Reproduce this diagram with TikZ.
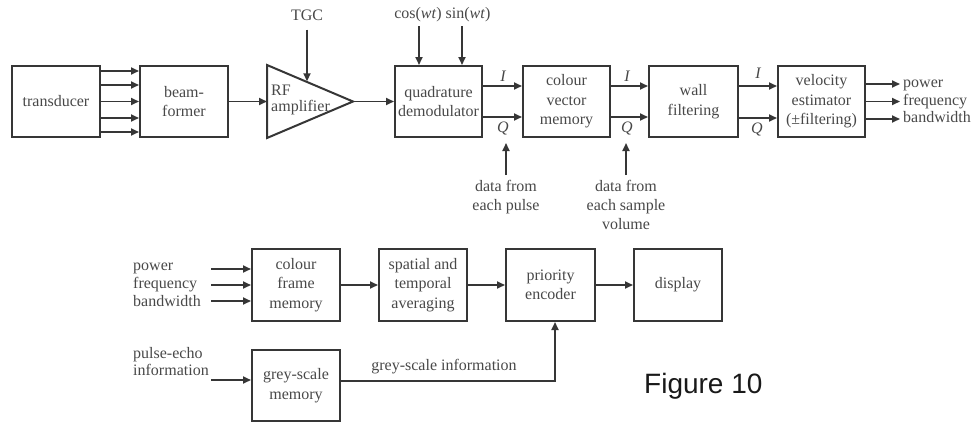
\documentclass[tikz,border=0pt]{standalone}
\usepackage{fontspec}
\setmainfont{Liberation Serif}
\newfontfamily\figfont{Liberation Sans}
\usetikzlibrary{arrows.meta}
\definecolor{linec}{HTML}{363636}
\definecolor{textc}{HTML}{484848}
\begin{document}
\begin{tikzpicture}[x=1pt,y=-1pt,
  box/.style={draw=linec, line width=2pt, minimum width=88pt, minimum height=71pt, inner sep=0pt, align=center, text=textc, font=\fontsize{16}{19.5}\selectfont},
  arr/.style={draw=linec, line width=1.8pt, -{Triangle[length=8pt,width=7pt]}},
  ln/.style={draw=linec, line width=1.8pt},
  lbl/.style={text=textc, inner sep=0pt, align=center, font=\fontsize{16}{19}\selectfont},
  iq/.style={text=textc, inner sep=0pt, font=\fontsize{16}{19}\selectfont\itshape}]
\useasboundingbox (0,0) rectangle (979,423);
% ---------- top row ----------
\node[box] (trans) at (56,101.5) {transducer};
\node[box] (beam) at (184,101.5) {beam-\\former};
\coordinate (ampA) at (267,65);
\coordinate (ampB) at (267,138);
\coordinate (ampC) at (353,101.5);
\draw[ln, line width=2pt, line join=miter] (ampA) -- (ampC) -- (ampB) -- cycle;
\node[lbl, align=left, anchor=west, font=\fontsize{16}{15.5}\selectfont] (amptext) at (271,100) {RF\\amplifier};
\node[box, minimum width=87pt] (quad) at (438.5,101.5) {quadrature\\demodulator};
\node[box, minimum width=87pt] (cvm) at (566.5,101.5) {colour\\vector\\memory};
\node[box, minimum width=89pt] (wall) at (693.5,101.5) {wall\\filtering};
\node[box, minimum width=87pt] (vel) at (821.5,101.5) {velocity\\estimator\\(±filtering)};

\foreach \d in {30.5,16.5,0,-16.5,-30.5}
  \draw[arr] ([yshift=\d pt]trans.east) -- ([yshift=\d pt]beam.west);
\draw[arr] (beam.east) -- (ampA |- beam.east);
\draw[arr] (ampC) -- (quad.west);

\node[lbl] (tgc) at (307,15) {TGC};
\coordinate (tgcend) at (307,81.3);
\draw[arr, shorten <=9pt] (tgc.south) -- (tgcend);

\node[lbl] (cos) at (418,15) {cos(\textit{wt})};
\node[lbl] (sin) at (468,15) {sin(\textit{wt})};
\draw[arr, shorten <=4pt] ([xshift=1pt]cos.south) -- ([xshift=1pt]cos.south |- quad.north);
\draw[arr, shorten <=4pt] ([xshift=-6pt]sin.south) -- ([xshift=-6pt]sin.south |- quad.north);

\draw[arr] ([yshift=15.5pt]quad.east) -- ([yshift=15.5pt]cvm.west);
\draw[arr] ([yshift=-15.5pt]quad.east) -- ([yshift=-15.5pt]cvm.west);
\draw[arr] ([yshift=15.5pt]cvm.east) -- ([yshift=15.5pt]wall.west);
\draw[arr] ([yshift=-15.5pt]cvm.east) -- ([yshift=-15.5pt]wall.west);
\draw[arr] ([yshift=15.5pt]wall.east) -- ([yshift=15.5pt]vel.west);
\draw[arr] ([yshift=-16.5pt]wall.east) -- ([yshift=-16.5pt]vel.west);

\node[iq] (i1) at (503,76) {I};
\node[iq] (q1) at (503,128) {Q};
\node[iq] (i2) at (627,76) {I};
\node[iq] (q2) at (627,128) {Q};
\node[iq] (i3) at (758,73) {I};
\node[iq] (q3) at (757,129) {Q};

\node[lbl, anchor=north] (dp) at (506,180) {data from\\each pulse};
\coordinate (dpend) at (506,143);
\draw[arr, shorten <=5pt] (dp.north) -- (dpend);
\node[lbl, anchor=north] (ds) at (626,180) {data from\\each sample\\volume};
\coordinate (dsend) at (626,143);
\draw[arr, shorten <=5pt] (ds.north) -- (dsend);

\node[lbl, anchor=base west] (op) at (903,87.5) {power};
\node[lbl, anchor=base west] (of) at (903,105) {frequency};
\node[lbl, anchor=base west] (ob) at (903,122.5) {bandwidth};
\draw[arr] ([yshift=17.5pt]vel.east) -- ([xshift=-3pt]op.base west |- 0,84);
\draw[arr] (vel.east) -- ([xshift=-3pt]of.base west |- 0,101.5);
\draw[arr] ([yshift=-17.5pt]vel.east) -- ([xshift=-3pt]ob.base west |- 0,119);

% ---------- bottom ----------
\node[box, minimum height=72pt] (cfm) at (296,285) {colour\\frame\\memory};
\node[box, minimum height=72pt] (sta) at (423,285) {spatial and\\temporal\\averaging};
\node[box, minimum height=72pt, minimum width=89pt] (prio) at (550.5,285) {priority\\encoder};
\node[box, minimum height=72pt] (disp) at (678,285) {display};
\node[box] (grey) at (296,385.5) {grey-scale\\memory};

\node[lbl, anchor=base west] (bp) at (133,270) {power};
\node[lbl, anchor=base west] (bf) at (133,288) {frequency};
\node[lbl, anchor=base west] (bb) at (133,306) {bandwidth};
\foreach \d in {16,0,-16}
  \draw[arr] ([shift={(-40pt,\d pt)}]cfm.west) -- ([yshift=\d pt]cfm.west);
\draw[arr] (cfm.east) -- (sta.west);
\draw[arr] (sta.east) -- (prio.west);
\draw[arr] (prio.east) -- (disp.west);

\node[lbl, align=left, anchor=base west, font=\fontsize{16}{17.5}\selectfont] (pe) at (133,375.5) {pulse-echo\\information};
\draw[arr] ([shift={(-40pt,5.5pt)}]grey.west) -- ([yshift=5.5pt]grey.west);
\draw[arr] ([yshift=4.5pt]grey.east) -| ([xshift=4.5pt]prio.south);
\node[lbl] (gsi) at (444,367) {grey-scale information};

\node[inner sep=0pt, anchor=base west, text=black!90, font=\figfont\fontsize{28}{30}\selectfont] (fig) at (644,393) {Figure 10};
\end{tikzpicture}
\end{document}
